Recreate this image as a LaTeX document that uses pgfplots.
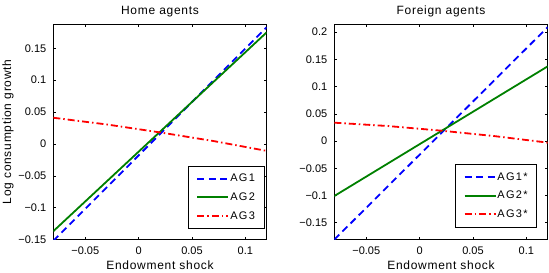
\documentclass[border=0pt]{standalone}
\usepackage{fontspec}
\setmainfont{Liberation Sans}
\newfontfamily\lblfont[LetterSpace=6]{Liberation Sans}
\newfontfamily\legfont[LetterSpace=12]{Liberation Sans}
\usepackage{pgfplots}
\pgfplotsset{compat=1.18}
\definecolor{mblue}{rgb}{0,0,1}
\definecolor{mgreen}{rgb}{0,0.5,0}
\definecolor{mred}{rgb}{1,0,0}
\pgfplotsset{
  every axis title shift=0pt,
  myaxis/.style={
    scale only axis, width=213.4pt, height=215.2pt,
    xmin=-0.08, xmax=0.12,
    xtick={-0.05,0,0.05,0.1},
    xticklabels={−0.05,0,0.05,0.1},
    tick align=inside, major tick length=2.5pt,
    tick style={black, line width=0.5pt},
    axis line style={line width=0.7pt},
    ticklabel style={font=\fontsize{11}{13}\selectfont},
    yticklabel style={xshift=-3.5pt},
    xticklabel style={yshift=-3.5pt},
    xlabel={Endowment shock},
    xlabel style={font=\lblfont\fontsize{12}{14}\selectfont, at={(axis description cs:0.5,-0.12)}, anchor=center},
    title style={font=\lblfont\fontsize{12}{14}\selectfont, at={(axis description cs:0.5,1)}, anchor=base, yshift=10pt},
    legend cell align=left,
    legend style={anchor=south east,
      font=\legfont\fontsize{11}{13}\selectfont,
      draw=black, line width=0.7pt, inner xsep=8pt, inner ysep=7pt, row sep=7.5pt,
      nodes={inner sep=1pt}},
    legend image code/.code={\draw[#1, line width=1.8pt] (0pt,0pt) -- (31pt,0pt);},
    /tikz/every even column/.append style={column sep=3pt},
  },
  l1/.style={mblue, line width=1.8pt, dash pattern=on 7pt off 4.5pt},
  l2/.style={mgreen, line width=1.8pt},
  l3/.style={mred, line width=1.8pt, dash pattern=on 7pt off 3pt on 1.5pt off 3pt},
}
\begin{document}
\begin{tikzpicture}[x=1pt,y=1pt]
\path[use as bounding box] (0,0) rectangle (549,273);
\begin{axis}[myaxis, at={(53.3pt,33.5pt)}, anchor=south west,
  ymin=-0.15, ymax=0.1876,
  ytick={-0.15,-0.1,-0.05,0,0.05,0.1,0.15},
  yticklabels={−0.15,−0.1,−0.05,0,0.05,0.1,0.15},
  title={Home agents},
  ylabel={Log consumption growth},
  ylabel style={font=\lblfont\fontsize{12}{14}\selectfont, at={(axis description cs:-0.212,0.5)}, anchor=center},
  legend style={at={(axis description cs:0.989,0.049)}},
]
\addplot[l1] coordinates {(-0.08,-0.152) (0.12,0.183)};
\addlegendentry{AG1}
\addplot[l2] coordinates {(-0.08,-0.137) (0.12,0.175)};
\addlegendentry{AG2}
\addplot[l3] coordinates {(-0.08,0.041) (-0.03,0.0305) (0.02,0.018) (0.07,0.0045) (0.12,-0.011)};
\addlegendentry{AG3}
\end{axis}
\begin{axis}[myaxis, at={(334.3pt,33.5pt)}, anchor=south west,
  ymin=-0.1808, ymax=0.2142,
  ytick={-0.15,-0.1,-0.05,0,0.05,0.1,0.15,0.2},
  yticklabels={−0.15,−0.1,−0.05,0,0.05,0.1,0.15,0.2},
  title={Foreign agents},
  legend style={at={(axis description cs:0.95,0.057)}},
]
\addplot[l1] coordinates {(-0.08,-0.181) (0.12,0.209)};
\addlegendentry{AG1*}
\addplot[l2] coordinates {(-0.08,-0.101) (0.12,0.137)};
\addlegendentry{AG2*}
\addplot[l3] coordinates {(-0.08,0.0336) (-0.03,0.0275) (0.02,0.019) (0.07,0.009) (0.12,-0.003)};
\addlegendentry{AG3*}
\end{axis}
\end{tikzpicture}
\end{document}
